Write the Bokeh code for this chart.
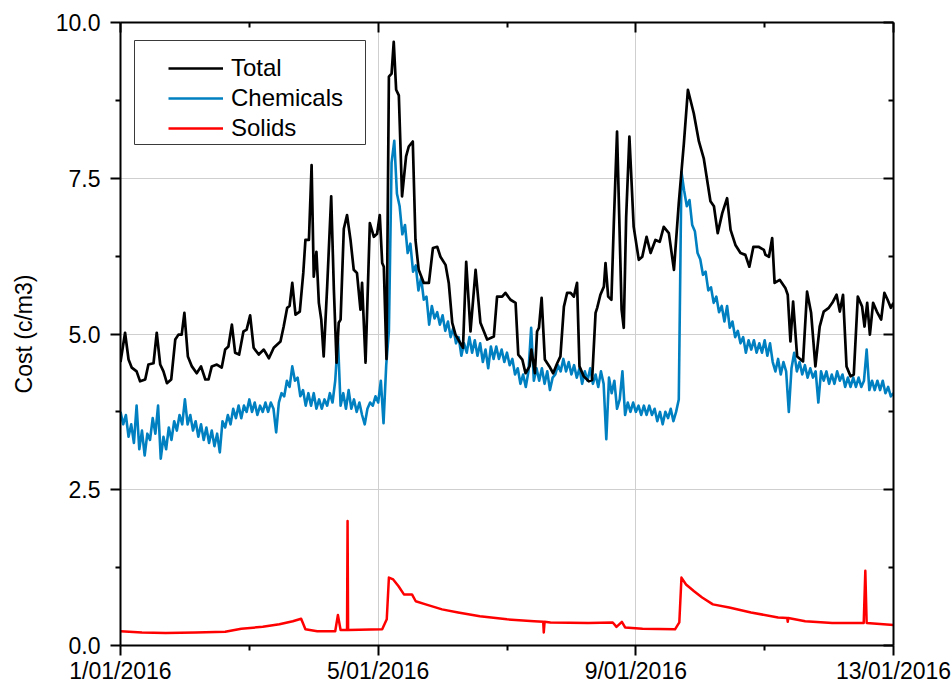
from bokeh.plotting import figure
from bokeh.models import (Range1d, LinearAxis, FixedTicker, PrintfTickFormatter,
                          Legend, LegendItem, BoxAnnotation)
from bokeh.embed import file_html
from bokeh.resources import INLINE

# ---------------- data (hours since 1/01/2016 00:00) ----------------
x_tick_hours = [0, 96, 192, 288]
x_tick_labels = ["1/01/2016", "5/01/2016", "9/01/2016", "13/01/2016"]
x_minor_hours = [48, 144, 240]
y_ticks = [0, 2.5, 5.0, 7.5, 10.0]
y_minor = [1.25, 3.75, 6.25, 8.75]

total_hours = [0, 1.7, 3, 4.2, 6, 7.3, 9.2, 10.4, 12.3, 13.5, 14.8, 16, 17.3, 18.9, 20.4, 21.6,
               22.8, 23.8, 25.1, 26.6, 28.4, 30, 31.6, 32.8, 34, 35.9, 37.7, 39, 40.2, 41.5,
               42.7, 44.2, 45.8, 47, 48.3, 49.6, 51.5, 53.4, 55.3, 57.1, 59.6, 60.8, 62.1, 63,
               64, 65.2, 66.8, 68.1, 68.9, 70.2, 71.2, 72, 73, 73.9, 74.8, 75.7, 77, 78.5,
               79.5, 80.5, 81.3, 82, 83.2, 84.4, 85.7, 86.9, 88.1, 89.4, 90, 91.3, 92.9, 94.4,
               95.6, 96.6, 97.5, 98.1, 99.1, 100, 101, 101.8, 102.7, 103.7, 104.9, 106.4,
               107.4, 108.9, 109.9, 111.1, 113, 114.9, 116.4, 118, 119.2, 121.1, 122.3, 123.6,
               124.8, 127.6, 128.8, 130.4, 132.3, 134.1, 136.6, 139.1, 140.3, 142.2, 143.4,
               145.3, 147.2, 148.2, 149.7, 150.9, 152.4, 153.1, 154.4, 155.2, 155.9, 156.9,
               158.1, 159.8, 161.2, 162.7, 163.9, 165.2, 166.4, 167.7, 168.9, 170.1, 171,
               172.6, 174.5, 175.7, 177, 177.6, 178.8, 180.1, 180.7, 181.7, 182.9, 183.8, 185,
               186.7, 187.5, 188.4, 189.6, 191.2, 193.1, 194.4, 196, 197.5, 199.3, 200.9,
               202.4, 204.3, 206.2, 208, 209.9, 211.4, 213.6, 215.5, 217.3, 219.8, 221.1,
               222.5, 224.2, 226, 227.3, 229.1, 231, 232.8, 234.3, 235.8, 237.7, 239.7, 240.3,
               241.6, 242.8, 243.7, 245.6, 247.7, 248.6, 249.6, 250.6, 252.1, 254.3, 255.8,
               257.3, 258.9, 260.5, 262, 263.9, 265.2, 266.8, 268, 269.2, 270.5, 272, 273.2,
               274.7, 276.3, 277.2, 278.2, 279.2, 280.4, 281.8, 283.4, 284.6, 285.8, 287, 288]
total_cost = [4.55, 5.02, 4.59, 4.46, 4.40, 4.24, 4.27, 4.51, 4.53, 5.02, 4.51, 4.40, 4.21, 4.27,
              4.91, 4.99, 4.99, 5.34, 4.64, 4.48, 4.37, 4.48, 4.27, 4.27, 4.48, 4.51, 4.46,
              4.75, 4.80, 5.15, 4.70, 4.67, 5.04, 5.07, 5.30, 4.78, 4.67, 4.75, 4.61, 4.78,
              4.88, 5.12, 5.42, 5.45, 5.82, 5.31, 5.36, 5.98, 6.51, 6.51, 7.71, 5.92, 6.32,
              5.50, 5.23, 4.64, 5.76, 7.21, 5.71, 4.54, 5.18, 5.23, 6.69, 6.91, 6.51, 6.03,
              5.98, 5.39, 5.82, 4.54, 6.78, 6.56, 6.61, 6.91, 6.14, 6.08, 4.60, 9.13, 9.18,
              9.69, 8.92, 8.83, 7.21, 7.85, 8.01, 8.09, 6.51, 6.03, 5.82, 5.82, 6.38, 6.40,
              6.24, 6.11, 5.82, 5.18, 4.99, 4.78, 6.16, 5.04, 6.03, 5.18, 4.91, 4.96, 5.60,
              5.60, 5.66, 5.55, 5.50, 4.67, 4.59, 4.37, 4.48, 4.75, 4.37, 5.04, 5.10, 5.58,
              4.59, 4.48, 4.37, 4.53, 4.64, 5.44, 5.66, 5.66, 5.60, 5.82, 4.48, 4.32, 4.24,
              4.26, 5.34, 5.42, 5.63, 5.76, 6.14, 5.60, 5.55, 6.78, 8.25, 5.39, 5.10, 6.88,
              8.17, 6.72, 6.19, 6.24, 6.56, 6.30, 6.51, 6.48, 6.72, 6.62, 6.03, 7.10, 8.06,
              8.92, 8.54, 8.09, 7.82, 7.13, 7.05, 6.62, 6.94, 7.18, 6.67, 6.43, 6.30, 6.27,
              6.08, 6.40, 6.40, 6.35, 6.27, 6.24, 6.54, 5.82, 5.87, 5.74, 5.63, 4.88, 5.52,
              4.64, 4.56, 5.68, 5.34, 4.48, 5.12, 5.36, 5.42, 5.50, 5.63, 5.36, 5.63, 4.48,
              4.32, 4.35, 5.60, 5.44, 5.12, 5.50, 4.99, 5.50, 5.36, 5.23, 5.66, 5.55, 5.42,
              5.50]

chem_hours = list(range(0, 289))
chem_cost = [3.75, 3.55, 3.70, 3.35, 3.55, 3.25, 3.85, 3.15, 3.45, 3.05,   # 0-9
             3.40, 3.30, 3.65, 3.40, 3.85, 3.00, 3.35, 3.15, 3.50, 3.30,   # 10-19
             3.60, 3.45, 3.70, 3.55, 3.95, 3.55, 3.70, 3.45, 3.60, 3.35,   # 20-29
             3.55, 3.30, 3.50, 3.25, 3.45, 3.20, 3.40, 3.10, 3.60, 3.50,   # 30-39
             3.70, 3.55, 3.80, 3.65, 3.85, 3.65, 3.85, 3.75, 3.95, 3.75,   # 40-49
             3.90, 3.70, 3.85, 3.75, 3.90, 3.75, 3.90, 3.80, 3.42, 3.90,   # 50-59
             4.05, 4.00, 4.25, 4.15, 4.48, 4.25, 4.30, 4.00, 4.10, 3.85,   # 60-69
             4.05, 3.85, 4.05, 3.80, 3.95, 3.80, 3.95, 3.85, 4.05, 3.90,   # 70-79
             4.25, 4.93, 3.85, 4.05, 3.80, 4.10, 3.80, 3.95, 3.75, 3.90,   # 80-89
             3.70, 3.55, 3.80, 3.90, 3.85, 4.00, 3.90, 4.25, 3.57, 4.50,   # 90-99
             5.05, 7.75, 8.10, 7.25, 7.05, 6.60, 6.75, 6.30, 6.45, 6.00,   # 100-109
             6.10, 5.70, 5.90, 5.55, 5.60, 5.15, 5.45, 5.25, 5.35, 5.15,   # 110-119
             5.30, 5.05, 5.20, 4.95, 5.10, 4.85, 4.95, 4.65, 4.85, 4.70,   # 120-129
             4.95, 4.70, 4.90, 4.65, 4.85, 4.55, 4.75, 4.45, 4.80, 4.60,   # 130-139
             4.80, 4.60, 4.75, 4.55, 4.70, 4.50, 4.60, 4.35, 4.45, 4.20,   # 140-149
             4.35, 4.15, 4.40, 5.10, 4.25, 4.45, 4.25, 4.45, 4.20, 4.40,   # 150-159
             4.10, 4.30, 4.35, 4.50, 4.40, 4.60, 4.40, 4.55, 4.35, 4.50,   # 160-169
             4.30, 4.45, 4.20, 4.40, 4.25, 4.45, 4.20, 4.35, 4.15, 4.40,   # 170-179
             4.20, 3.31, 4.30, 4.05, 4.25, 3.80, 3.95, 4.40, 3.70, 3.90,   # 180-189
             3.75, 3.90, 3.75, 3.85, 3.70, 3.85, 3.70, 3.85, 3.70, 3.80,   # 190-199
             3.60, 3.75, 3.55, 3.75, 3.65, 3.80, 3.60, 3.75, 3.95, 7.60,   # 200-209
             7.30, 7.05, 7.15, 6.75, 6.65, 6.30, 6.20, 5.95, 6.00, 5.70,   # 210-219
             5.75, 5.50, 5.60, 5.35, 5.45, 5.20, 5.45, 5.10, 5.20, 4.95,   # 220-229
             5.05, 4.85, 4.95, 4.70, 4.90, 4.75, 4.90, 4.70, 4.85, 4.70,   # 230-239
             4.90, 4.65, 4.85, 4.55, 4.40, 4.60, 4.35, 4.55, 4.40, 3.75,   # 240-249
             4.45, 4.70, 4.40, 4.55, 4.35, 4.50, 4.30, 4.45, 4.30, 4.40,   # 250-259
             3.90, 4.40, 4.25, 4.40, 4.20, 4.35, 4.20, 4.40, 4.25, 4.35,   # 260-269
             4.15, 4.30, 4.15, 4.30, 4.15, 4.30, 4.15, 4.25, 4.75, 4.10,   # 270-279
             4.25, 4.10, 4.25, 4.10, 4.25, 4.05, 4.15, 4.00, 4.05]         # 280-288

solids_hours = [0, 8, 16.8, 28, 39, 45, 53, 59.2, 64.2, 67.3, 68.9, 73.3, 80, 81, 82, 84.4, 84.6,
                84.8, 97.5, 99.2, 100, 101.6, 103.6, 105.6, 108.6, 110, 113.7, 119.8, 125.8,
                133.9, 144, 154.1, 157.5, 157.7, 158, 160.2, 174.3, 183.4, 184.8, 186.8, 188,
                194.5, 206.6, 208.2, 209, 210.7, 213.7, 216.7, 220.7, 226.8, 234.9, 245, 248.4,
                248.6, 248.8, 255.1, 265.2, 276.9, 277.5, 278, 288]
solids_cost = [0.23, 0.21, 0.20, 0.21, 0.22, 0.27, 0.30, 0.34, 0.39, 0.43, 0.26, 0.23, 0.23,
               0.49, 0.25, 0.25, 2.00, 0.25, 0.26, 0.42, 1.09, 1.06, 0.95, 0.82, 0.82, 0.71,
               0.66, 0.58, 0.53, 0.47, 0.42, 0.39, 0.38, 0.21, 0.38, 0.37, 0.36, 0.37, 0.30,
               0.38, 0.29, 0.27, 0.26, 0.37, 1.09, 0.98, 0.87, 0.77, 0.66, 0.61, 0.53, 0.45,
               0.44, 0.38, 0.44, 0.39, 0.36, 0.36, 1.20, 0.36, 0.33]

FONT = "Liberation Sans"

p = figure(width=952, height=686, output_backend="svg", toolbar_location=None,
           x_range=Range1d(0, 288), y_range=Range1d(0, 10),
           min_border_left=120, min_border_right=59, min_border_top=22, min_border_bottom=40)
p.outline_line_color = None
p.background_fill_color = "white"
p.border_fill_color = "white"

r_chem = p.line(chem_hours, chem_cost, line_color="#0080C0", line_width=2.6, line_join="round")
r_sol = p.line(solids_hours, solids_cost, line_color="#FF0000", line_width=2.5, line_join="round")
r_tot = p.line(total_hours, total_cost, line_color="#000000", line_width=2.7, line_join="round")

# axes
xt = FixedTicker(ticks=x_tick_hours, minor_ticks=x_minor_hours)
yt = FixedTicker(ticks=y_ticks, minor_ticks=y_minor)

xa = p.xaxis[0]
xa.ticker = xt
xa.major_label_overrides = {h: lab for h, lab in zip(x_tick_hours, x_tick_labels)}
ya = p.yaxis[0]
ya.ticker = yt
ya.formatter = PrintfTickFormatter(format="%.1f")
ya.axis_label = "Cost (c/m3)"

for ax in (xa, ya):
    ax.axis_line_width = 2
    ax.axis_line_color = "black"
    ax.major_tick_line_width = 2
    ax.minor_tick_line_width = 2
    ax.major_tick_in = 0
    ax.major_tick_out = 10
    ax.minor_tick_in = 0
    ax.minor_tick_out = 5
    ax.major_label_text_font = FONT
    ax.major_label_text_font_size = "23px"
    ax.major_label_text_color = "black"
xa.major_label_standoff = 2
ya.major_label_standoff = 10
ya.axis_label_text_font = FONT
ya.axis_label_text_font_size = "23px"
ya.axis_label_text_font_style = "normal"
ya.axis_label_text_color = "black"
ya.axis_label_standoff = 16

top = LinearAxis(ticker=xt)
right = LinearAxis(ticker=yt)
for ax in (top, right):
    ax.axis_line_width = 2
    ax.axis_line_color = "black"
    ax.major_tick_line_width = 2
    ax.minor_tick_line_width = 2
    ax.major_tick_in = 10
    ax.major_tick_out = 0
    ax.minor_tick_in = 5
    ax.minor_tick_out = 0
    ax.major_label_text_font_size = "1px"
    ax.major_label_text_alpha = 0
    ax.major_label_standoff = 0
p.add_layout(top, "above")
p.add_layout(right, "right")

p.xgrid.ticker = FixedTicker(ticks=x_tick_hours)
p.ygrid.ticker = FixedTicker(ticks=y_ticks)
for g in (p.xgrid, p.ygrid):
    g.grid_line_color = "#cfcfcf"
    g.grid_line_width = 1

# legend frame + legend
box = BoxAnnotation(left=134, right=365, top=40, bottom=144,
                    left_units="canvas", right_units="canvas",
                    top_units="canvas", bottom_units="canvas",
                    fill_color="white", fill_alpha=1.0,
                    line_color="#3a3a3a", line_width=1, line_alpha=1.0)
p.add_layout(box)

legend = Legend(items=[LegendItem(label="Total", renderers=[r_tot]),
                       LegendItem(label="Chemicals", renderers=[r_chem]),
                       LegendItem(label="Solids", renderers=[r_sol])],
                location=(48, 502), padding=0, margin=0, spacing=0,
                label_height=30, glyph_height=30, glyph_width=55, label_standoff=8,
                border_line_alpha=0, background_fill_alpha=0,
                label_text_font=FONT, label_text_font_size="24px", label_text_color="black")
p.add_layout(legend)

open("out.html", "w").write(file_html(p, INLINE))
